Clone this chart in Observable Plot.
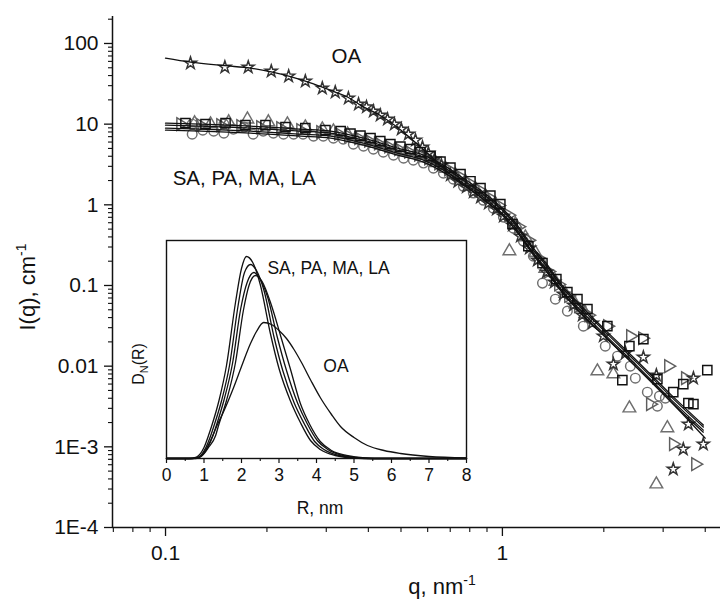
<!DOCTYPE html>
<html><head><meta charset="utf-8">
<script src="https://cdn.jsdelivr.net/npm/d3@7"></script>
<script src="https://cdn.jsdelivr.net/npm/@observablehq/plot@0.6"></script>
<style>
body{margin:0;background:#fff}
#wrap{position:relative;width:725px;height:603px}
#wrap svg{position:absolute;left:0;top:0}
</style>
</head><body><div id="wrap"></div>
<script>
// ---------- main chart: axes ----------
const xDomain = [0.0696, 4.44];
const yDomain = [1e-4, 216];
const xTicks = [0.1, 1];
const xTickLabels = ["0.1", "1"];
const yTicks = [100, 10, 1, 0.1, 0.01, 1e-3, 1e-4];
const yTickLabels = ["100", "10", "1", "0.1", "0.01", "1E-3", "1E-4"];

// ---------- fitted curves ----------
const fitQ = [0.100,0.127,0.179,0.252,0.309,0.387,0.488,0.583,0.668,0.766,0.861,0.940,1.078,1.236,1.360,1.486,1.739,1.994,2.515,3.153,3.948];
const fitSA1 = [10.3,10.0,9.44,8.67,8.19,6.70,5.04,4.13,3.10,2.13,1.52,1.14,0.646,0.291,0.179,0.107,0.0524,0.0296,0.0115,0.0045,0.00186];
const fitSA2 = [9.71,9.45,8.92,8.19,7.74,6.33,4.76,3.90,2.93,2.02,1.44,1.08,0.610,0.275,0.169,0.101,0.0495,0.0280,0.0109,0.00425,0.00176];
const fitSA3 = [8.91,8.67,8.18,7.51,7.10,5.81,4.37,3.58,2.69,1.85,1.32,0.99,0.560,0.252,0.155,0.0927,0.0454,0.0257,0.0100,0.0039,0.00161];
const fitSA4 = [8.42,8.19,7.73,7.10,6.71,5.49,4.13,3.38,2.54,1.75,1.25,0.937,0.529,0.238,0.146,0.0876,0.0429,0.0243,0.00946,0.00368,0.00152];
const fitOAq = [0.100,0.1186,0.150,0.179,0.206,0.232,0.260,0.292,0.319,0.349,0.379,0.434,0.498,0.599,0.701,0.861,1.007,1.203,1.426,1.727,1.994,2.515,3.153,4.0];
const fitOA = [65.8,58.7,53.0,49.5,44.5,39.4,34.1,28.7,24.9,21.4,17.2,12.8,8.55,4.37,2.40,1.24,0.724,0.290,0.110,0.0428,0.0242,0.00945,0.00368,0.00128];

// ---------- measured points ----------
const starQ = [0.1186,0.150,0.176,0.206,0.232,0.260,0.292,0.319,0.349,0.374,0.395,0.414,0.434,0.456,0.478,0.501,0.526,0.552,0.579,0.603,0.629,0.659,0.701,0.738,0.782,0.820,0.861,0.909,0.960,1.007,1.071,1.131,1.203,1.270,1.351,1.426,1.517,1.625,1.727,1.849,1.994,2.135,2.32,2.621,2.864,3.215,3.443,3.565,3.690,3.948];
const starI = [57.0,50.9,50.9,45.4,39.4,34.1,27.9,24.9,21.0,17.7,16.3,14.5,12.9,11.5,10.0,8.67,7.52,6.33,5.19,4.37,3.68,3.10,2.35,1.95,1.66,1.44,1.24,1.05,0.883,0.724,0.560,0.409,0.290,0.206,0.146,0.110,0.0782,0.0570,0.0428,0.0341,0.0236,0.0106,0.0145,0.0129,0.00773,0.000528,0.000935,0.00191,0.00710,0.00108];

const circQ = [0.120,0.120,0.129,0.139,0.149,0.149,0.159,0.171,0.182,0.195,0.209,0.224,0.240,0.256,0.275,0.294,0.315,0.337,0.361,0.387,0.414,0.443,0.475,0.509,0.544,0.583,0.624,0.668,0.715,0.766,0.820,0.878,0.940,1.007,1.078,1.154,1.236,1.315,1.436,1.559,1.739,2.02,2.195,2.398,2.481,2.693,2.884,2.925,3.046];
const circI = [10.0,7.52,8.43,8.19,10.0,7.74,8.67,9.18,7.52,8.19,7.74,7.52,7.52,7.52,7.10,7.10,6.70,6.52,5.65,5.33,4.90,4.50,4.13,3.79,3.58,3.29,2.85,2.47,2.08,1.70,1.40,1.14,0.909,0.703,0.514,0.355,0.231,0.107,0.0677,0.0481,0.0313,0.0177,0.0133,0.0100,0.0071,0.00476,0.00319,0.00425,0.00401];

const triQ = [0.122,0.136,0.154,0.175,0.202,0.230,0.260,0.292,0.315,0.347,0.366,0.392,0.420,0.449,0.481,0.515,0.552,0.591,0.633,0.678,0.725,0.777,0.831,0.890,0.953,1.049,1.093,1.170,1.253,1.341,1.436,1.537,1.646,1.763,1.914,2.135,2.382,2.864,3.088];
const triI = [10.3,10.0,10.6,11.5,10.6,10.0,9.18,8.67,8.19,7.52,6.61,6.21,5.73,5.26,4.90,4.54,4.19,3.79,3.31,2.81,2.35,1.94,1.59,1.29,1.02,0.267,0.576,0.397,0.255,0.162,0.112,0.0793,0.0587,0.0448,0.00867,0.00796,0.00301,0.000344,0.00171];

const rtQ = [0.1108,0.127,0.1456,0.167,0.1913,0.2194,0.2516,0.2884,0.326,0.349,0.374,0.400,0.428,0.459,0.491,0.526,0.563,0.603,0.646,0.691,0.740,0.793,0.849,0.909,0.973,1.042,1.116,1.194,1.279,1.369,1.466,1.570,1.680,1.799,2.049,2.398,2.603,2.748,3.110,3.215,3.741,3.49];
const rtI = [10.0,9.72,9.72,9.44,9.18,8.92,8.43,7.96,7.60,7.10,6.69,6.24,5.75,5.28,4.90,4.56,4.20,3.77,3.25,2.74,2.29,1.88,1.54,1.24,0.982,0.745,0.535,0.363,0.218,0.149,0.103,0.0741,0.0554,0.0429,0.0313,0.0236,0.0222,0.00338,0.0100,0.00108,0.000609,0.0071];

const sqQ = [0.1146,0.1314,0.1507,0.1727,0.198,0.227,0.260,0.2984,0.331,0.354,0.379,0.406,0.434,0.465,0.498,0.533,0.571,0.612,0.655,0.701,0.751,0.804,0.861,0.921,0.986,1.071,1.194,1.315,1.446,1.559,1.670,1.788,2.049,2.382,2.621,2.270,2.884,3.215,3.443,3.565,3.690,4.057];
const sqI = [10.3,10.0,10.3,9.72,9.72,9.18,8.92,8.43,8.19,7.62,7.20,6.71,6.15,5.65,5.26,4.90,4.50,4.01,3.43,2.89,2.40,1.96,1.61,1.30,1.02,0.576,0.308,0.189,0.120,0.0827,0.0677,0.0509,0.0313,0.0177,0.0216,0.0067,0.0069,0.00476,0.00598,0.00348,0.00338,0.00892];

// ---------- annotations (data coordinates) ----------
const mainLabelOA = [{q: 0.344, I: 69.7, t: "OA"}];
const mainLabelSA = [{q: 0.105, I: 2.11, t: "SA, PA, MA, LA"}];

// ---------- inset: size distributions D_N(R) ----------
const insetTicks = [0,1,2,3,4,5,6,7,8];
const insetMinor = [0.5,1.5,2.5,3.5,4.5,5.5,6.5,7.5];
const sa1R = [0,0.6,0.8,1.0,1.12,1.2,1.4,1.6,1.84,2.0,2.13,2.3,2.5,2.77,3.0,3.3,3.57,3.84,4.1,4.5,5.0,5.5,8];
const sa1D = [0,0,0.0015,0.011,0.023,0.032,0.058,0.093,0.156,0.190,0.202,0.196,0.174,0.125,0.090,0.058,0.036,0.018,0.009,0.003,0.0005,0,0];
const sa2R = [0,0.65,0.85,1.05,1.18,1.26,1.47,1.68,1.91,2.08,2.24,2.4,2.6,2.87,3.1,3.4,3.67,3.95,4.2,4.6,5.1,5.6,8];
const sa2D = [0,0,0.0015,0.011,0.023,0.032,0.058,0.093,0.153,0.186,0.194,0.188,0.168,0.121,0.088,0.056,0.035,0.017,0.009,0.003,0.0005,0,0];
const sa3R = [0,0.68,0.88,1.1,1.24,1.32,1.53,1.76,1.98,2.15,2.33,2.5,2.7,2.95,3.2,3.5,3.75,4.02,4.3,4.7,5.2,5.7,8];
const sa3D = [0,0,0.0015,0.011,0.023,0.032,0.058,0.095,0.150,0.176,0.186,0.179,0.161,0.122,0.088,0.055,0.035,0.018,0.009,0.003,0.0005,0,0];
const sa4R = [0,0.7,0.9,1.12,1.31,1.38,1.6,1.84,2.05,2.2,2.37,2.55,2.8,3.04,3.3,3.57,3.82,4.1,4.4,4.8,5.3,5.8,8];
const sa4D = [0,0,0.0015,0.011,0.023,0.032,0.058,0.096,0.148,0.173,0.183,0.177,0.153,0.123,0.090,0.055,0.034,0.017,0.008,0.003,0.0005,0,0];
const oaR = [0,0.7,0.85,1.0,1.2,1.36,1.5,1.79,2.0,2.24,2.4,2.59,2.8,3.0,3.2,3.4,3.6,3.85,4.1,4.4,4.64,5.0,5.36,5.8,6.24,7.0,8];
const oaD = [0,0,0.0005,0.006,0.020,0.034,0.045,0.071,0.092,0.115,0.127,0.136,0.134,0.128,0.120,0.109,0.096,0.078,0.061,0.044,0.032,0.021,0.013,0.008,0.005,0.002,0.0005];
const insetLabelSA = [{R: 2.69, D: 0.190, t: "SA, PA, MA, LA"}];
const insetLabelOA = [{R: 4.52, D: 0.092, t: "OA"}];

// ---------- build ----------
const FONT = '"Liberation Sans", Arial, Helvetica, sans-serif';
const pts = (xs, ys, kx, ky) => xs.map((v, i) => ({[kx]: v, [ky]: ys[i]}));

const yMinor = [];
for (let e = -4; e < 3; e++) for (let m = 2; m <= 9; m++) { const v = m * Math.pow(10, e); if (v < yDomain[1]) yMinor.push(v); }
const xMinor = [];
for (let e = -2; e < 1; e++) for (let m = 2; m <= 9; m++) { const v = m * Math.pow(10, e); if (v > xDomain[0] && v < xDomain[1]) xMinor.push(v); }

const lineOpts = {x: "q", y: "I", stroke: "#111", strokeWidth: 1.3, curve: "monotone-x"};
const dotBase = {x: "q", y: "I", fill: "none", strokeWidth: 1.45};

const main = Plot.plot({
  width: 725, height: 603,
  marginLeft: 112, marginRight: 5, marginTop: 16, marginBottom: 76,
  style: {fontFamily: FONT, fontSize: "21px", background: "white", color: "#111"},
  x: {type: "log", domain: xDomain},
  y: {type: "log", domain: yDomain},
  marks: [
    Plot.axisY(yMinor, {tickSize: 4, tickFormat: () => "", label: null, strokeWidth: 1.1}),
    Plot.axisY(yTicks, {tickSize: 8, tickPadding: 6, label: null, strokeWidth: 1.3, fontSize: 21,
      tickFormat: d => yTickLabels[yTicks.indexOf(d)]}),
    Plot.axisX(xMinor, {tickSize: 5, tickFormat: () => "", label: null, strokeWidth: 1.1}),
    Plot.axisX(xTicks, {tickSize: 9, tickPadding: 9, label: null, strokeWidth: 1.3, fontSize: 21,
      tickFormat: d => xTickLabels[xTicks.indexOf(d)]}),
    Plot.ruleX([xDomain[0]], {stroke: "#111", strokeWidth: 1.5}),
    Plot.ruleY([yDomain[0]], {stroke: "#111", strokeWidth: 1.5}),
    Plot.dot(pts(circQ, circI, "q", "I"), {...dotBase, symbol: "circle", r: 4.8, stroke: "#6e6e6e"}),
    Plot.dot(pts(triQ, triI, "q", "I"), {...dotBase, symbol: "triangle", r: 4.7, stroke: "#6e6e6e"}),
    Plot.dot(pts(rtQ, rtI, "q", "I"), {...dotBase, symbol: "triangle", rotate: 90, r: 4.7, stroke: "#5e5e5e"}),
    Plot.dot(pts(starQ, starI, "q", "I"), {...dotBase, symbol: "star", r: 3.8, stroke: "#333"}),
    Plot.dot(pts(sqQ, sqI, "q", "I"), {...dotBase, symbol: "square", r: 5.2, stroke: "#111"}),
    Plot.line(pts(fitQ, fitSA1, "q", "I"), lineOpts),
    Plot.line(pts(fitQ, fitSA2, "q", "I"), lineOpts),
    Plot.line(pts(fitQ, fitSA3, "q", "I"), lineOpts),
    Plot.line(pts(fitQ, fitSA4, "q", "I"), lineOpts),
    Plot.line(pts(fitOAq, fitOA, "q", "I"), lineOpts),
    Plot.text(mainLabelOA, {x: "q", y: "I", text: "t", textAnchor: "middle", fontSize: 20.5, fill: "#111"}),
    Plot.text(mainLabelSA, {x: "q", y: "I", text: "t", textAnchor: "start", fontSize: 20.5, fill: "#111"})
  ]
});
document.getElementById("wrap").appendChild(main);

const inLine = {x: "R", y: "D", stroke: "#111", strokeWidth: 1.3, curve: "monotone-x"};
const inset = Plot.plot({
  width: 725, height: 603,
  marginLeft: 166, marginRight: 259, marginTop: 240, marginBottom: 145,
  style: {fontFamily: FONT, fontSize: "17px", background: "transparent", color: "#111"},
  x: {domain: [0, 8]},
  y: {domain: [0, 0.218], axis: null},
  marks: [
    Plot.frame({fill: "white", stroke: "none"}),
    Plot.line(pts(sa1R, sa1D, "R", "D"), inLine),
    Plot.line(pts(sa2R, sa2D, "R", "D"), inLine),
    Plot.line(pts(sa3R, sa3D, "R", "D"), inLine),
    Plot.line(pts(sa4R, sa4D, "R", "D"), inLine),
    Plot.line(pts(oaR, oaD, "R", "D"), inLine),
    Plot.axisX(insetMinor, {tickSize: 3, tickFormat: () => "", label: null, strokeWidth: 1.1}),
    Plot.axisX(insetTicks, {tickSize: 5, tickPadding: 5, label: null, strokeWidth: 1.2, fontSize: 17.5}),
    Plot.frame({stroke: "#111", strokeWidth: 1.4}),
    Plot.text(insetLabelSA, {x: "R", y: "D", text: "t", textAnchor: "start", fontSize: 17.5, fill: "#111"}),
    Plot.text(insetLabelOA, {x: "R", y: "D", text: "t", textAnchor: "middle", fontSize: 17.5, fill: "#111"})
  ]
});
document.getElementById("wrap").appendChild(inset);

// axis titles
const sm = d3.select(main);
const yl = sm.append("text").attr("transform", "translate(35,287) rotate(-90)").attr("text-anchor", "middle")
  .style("font-size", "22px").attr("fill", "#111");
yl.append("tspan").text("I(q), cm");
yl.append("tspan").attr("dy", "-9").style("font-size", "14px").text("-1");

const xl = sm.append("text").attr("x", 442).attr("y", 594).attr("text-anchor", "middle")
  .style("font-size", "22px").attr("fill", "#111");
xl.append("tspan").text("q, nm");
xl.append("tspan").attr("dy", "-9").style("font-size", "14px").text("-1");

const dl = sm.append("text").attr("transform", "translate(144,364) rotate(-90)").attr("text-anchor", "middle")
  .style("font-size", "16px").attr("fill", "#111");
dl.append("tspan").text("D");
dl.append("tspan").attr("dy", "4").style("font-size", "11px").text("N");
dl.append("tspan").attr("dy", "-4").text("(R)");

d3.select(inset).append("text").attr("x", 320).attr("y", 514).attr("text-anchor", "middle")
  .style("font-size", "17.5px").attr("fill", "#111").text("R, nm");
</script>
</body></html>
